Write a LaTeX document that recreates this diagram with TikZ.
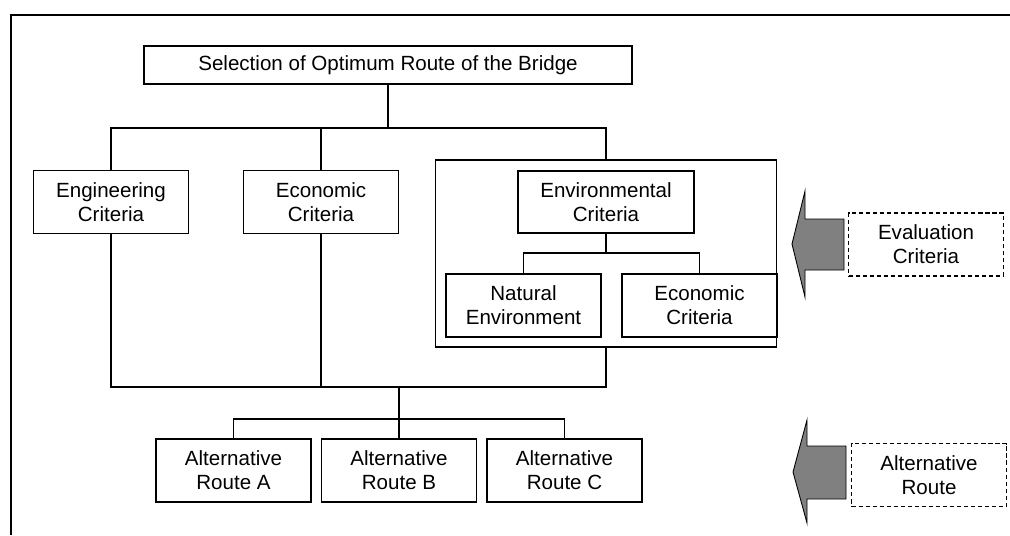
\documentclass[tikz,border=0pt]{standalone}
\usepackage{fontspec}
\setmainfont{Liberation Sans}

\tikzset{
  box/.style={draw, line width=0.7pt, minimum width=3.1cm, minimum height=1.26cm,
    align=center, inner sep=0pt, font=\fontsize{11.7}{13.6}\selectfont},
  dashbox/.style={box, line width=0.8pt, dash pattern=on 2.4pt off 1.6pt},
  link/.style={line width=0.9pt},
  bigarrow/.style={draw, line width=0.5pt, fill=gray}
}

\begin{document}
\begin{tikzpicture}[x=0.02cm, y=-0.02cm]
\useasboundingbox (0,0) rectangle (1010,535);

% Marco
\draw [line width=1.1pt] (11,535) -- (11,15) -- (1010,15);

% Objetivo
\node [box, minimum width=9.76cm, minimum height=0.76cm] (title) at (388,65)
  {Selection of Optimum Route of the Bridge};

% Criterios
\node [box] (eng) at (111,202) {Engineering\\Criteria};
\node [box] (eco) at (321,202) {Economic\\Criteria};
\node [box, minimum width=6.82cm, minimum height=3.74cm] (grp) at (606,253.5) {};
\node [box, minimum width=3.52cm, minimum height=1.24cm] (envc) at (606,202)
  {Environmental\\Criteria};
\node [box] (nat) at (523.5,305.5) {Natural\\Environment};
\node [box] (eco2) at (699.5,305.5) {Economic\\Criteria};

% Alternativas
\node [box] (altA) at (233.5,470.5) {Alternative\\Route A};
\node [box] (altB) at (399,470.5) {Alternative\\Route B};
\node [box] (altC) at (564.5,470.5) {Alternative\\Route C};

% Conexiones
\coordinate (top) at (388,128);
\coordinate (sub) at (606,253);
\coordinate (bot) at (399,387);
\coordinate (alt) at (399,419);
\draw [link] (title) -- (top);
\draw [link] (eng.north) -- (eng.north |- top) -- (grp.north |- top) -- (grp.north);
\draw [link] (eco.north) -- (eco.north |- top);
\draw [link] (envc) -- (sub);
\draw [link] (nat.north) -- (nat.north |- sub) -- (eco2.north |- sub) -- (eco2.north);
\draw [link] (eng.south) -- (eng.south |- bot) -- (grp.south |- bot) -- (grp.south);
\draw [link] (eco.south) -- (eco.south |- bot);
\draw [link] (bot) -- (altB);
\draw [link] (altA.north) -- (altA.north |- alt) -- (altC.north |- alt) -- (altC.north);

% Flechas
\draw [bigarrow] (844,219) -- (805,219) -- (805,191) -- (792,244) -- (805,297)
  -- (805,270) -- (844,270) -- cycle;
\draw [bigarrow] (846,446) -- (807,446) -- (807,420) -- (793,472) -- (807,523)
  -- (807,499) -- (846,499) -- cycle;

% Etiquetas
\node [dashbox] (evalc) at (926,244.5) {Evaluation\\Criteria};
\node [dashbox] (altr) at (929,475) {Alternative\\Route};
\end{tikzpicture}
\end{document}
